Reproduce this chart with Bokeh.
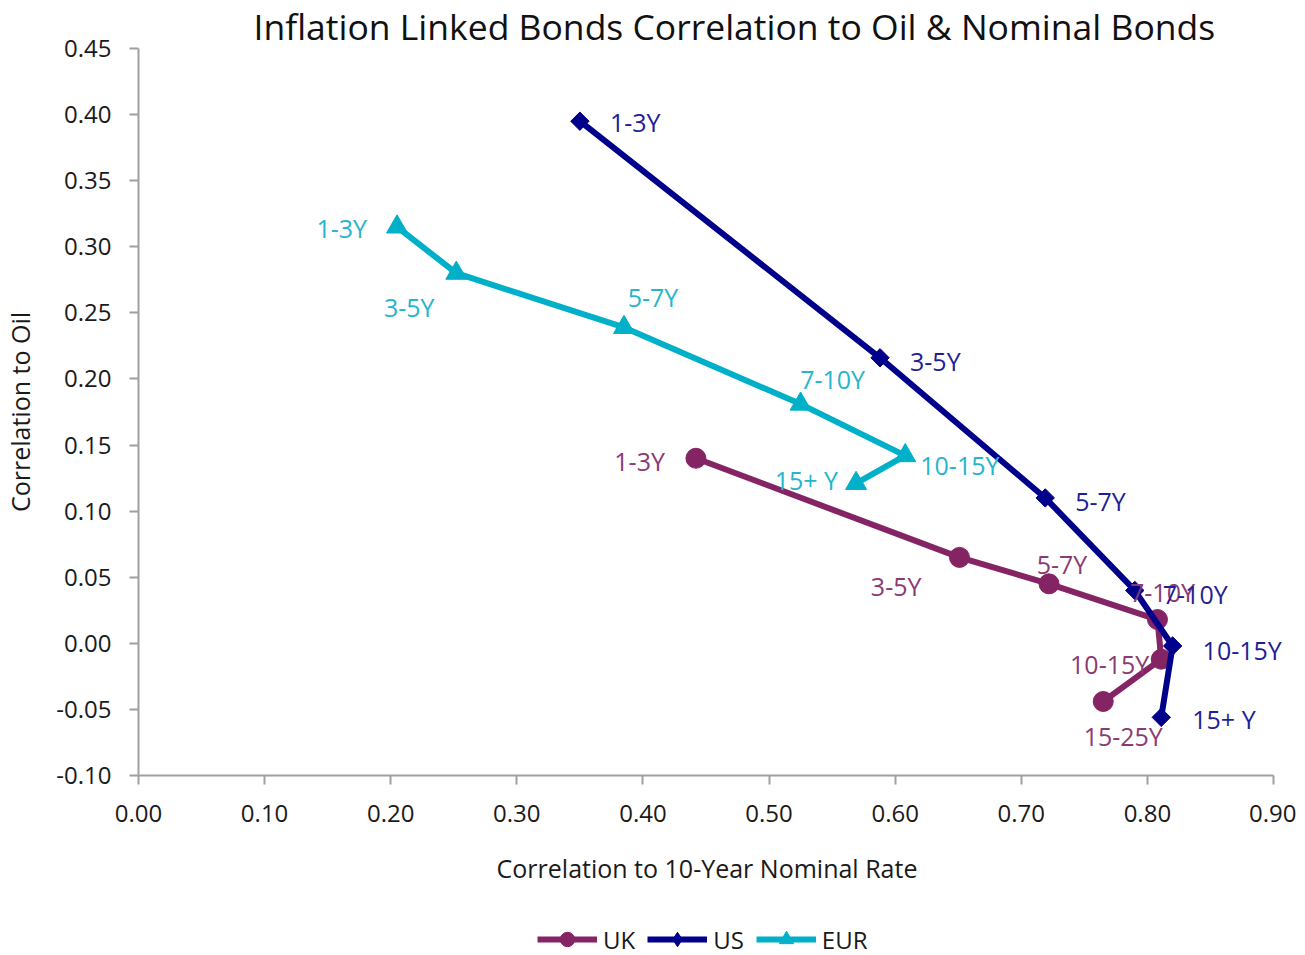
import numpy as np
from bokeh.plotting import figure
from bokeh.layouts import column
from bokeh.models import (ColumnDataSource, Legend, LegendItem, FixedTicker,
                          NumeralTickFormatter, Range1d, Title, LabelSet)
from bokeh.core.properties import value
from bokeh.embed import file_html
from bokeh.resources import INLINE

# ---- data ----
uk_labels = ["1-3Y", "3-5Y", "5-7Y", "7-10Y", "10-15Y", "15-25Y"]
uk_x = [0.442, 0.651, 0.722, 0.808, 0.811, 0.765]
uk_y = [0.140, 0.065, 0.045, 0.018, -0.012, -0.044]

us_labels = ["1-3Y", "3-5Y", "5-7Y", "7-10Y", "10-15Y", "15+ Y"]
us_x = [0.350, 0.588, 0.719, 0.790, 0.820, 0.811]
us_y = [0.395, 0.216, 0.110, 0.040, -0.002, -0.056]

eur_labels = ["1-3Y", "3-5Y", "5-7Y", "7-10Y", "10-15Y", "15+ Y"]
eur_x = [0.205, 0.252, 0.385, 0.525, 0.608, 0.569]
eur_y = [0.315, 0.280, 0.239, 0.181, 0.142, 0.121]

x_ticks = [0.0, 0.1, 0.2, 0.3, 0.4, 0.5, 0.6, 0.7, 0.8, 0.9]
y_ticks = [-0.10, -0.05, 0.0, 0.05, 0.10, 0.15, 0.20, 0.25, 0.30, 0.35, 0.40, 0.45]

# ---- label styling (pixel offsets, alignment) ----
uk_dx = [-31, -38, 13, 5, -12, 20]
uk_dy = [-3, -29, 20, 28, -5, -35]
uk_align = ["right", "right", "center", "center", "right", "center"]

us_dx = [30, 30, 30, 28, 30, 31]
us_dy = [-1, -3, -3, -4, -4, -2]
us_align = ["left"] * 6

eur_dx = [-30, -47, 29, 32, 15, -18]
eur_dy = [-1, -34, 30, 25, -9, 3]
eur_align = ["right", "center", "center", "center", "left", "right"]

UK_C = "#842464"
US_C = "#00008B"
EUR_C = "#00B0C8"
UK_T = "#8B3A75"
US_T = "#1E1E96"
EUR_T = "#26B5CC"
FONT = "Open Sans"

AXIS_W = 1135          # pixel width of 0.00..0.90
FRAME_W = 1150         # a little extra room on the right for labels
X_END = 0.9 * FRAME_W / AXIS_W
LEFT, RIGHT = 135, 8
TOTAL_W = LEFT + FRAME_W + RIGHT

p = figure(frame_width=FRAME_W, frame_height=727, output_backend="svg", toolbar_location=None,
           x_range=Range1d(0.0, X_END), y_range=Range1d(-0.10, 0.45),
           min_border_left=LEFT, min_border_right=RIGHT, min_border_top=40,
           min_border_bottom=118)
p.outline_line_color = None
p.grid.visible = False
p.background_fill_color = "white"
p.border_fill_color = "white"

p.title = Title(text="Inflation Linked Bonds Correlation to Oil & Nominal Bonds",
                text_font=FONT, text_font_size="35.5px", text_font_style="normal",
                text_color="#111111", align="left", offset=115, standoff=-2,
                text_line_height=1.0)

for ax in (p.xaxis[0], p.yaxis[0]):
    ax.axis_line_color = "#A0A0A0"
    ax.axis_line_width = 2
    ax.major_tick_line_color = "#A0A0A0"
    ax.major_tick_line_width = 2
    ax.major_tick_out = 9
    ax.major_tick_in = 0
    ax.minor_tick_line_color = None
    ax.major_label_text_font = FONT
    ax.major_label_text_font_size = "24px"
    ax.major_label_text_color = "#1a1a1a"
    ax.axis_label_text_font = FONT
    ax.axis_label_text_font_size = "25px"
    ax.axis_label_text_font_style = "normal"
    ax.axis_label_text_color = "#1a1a1a"
    ax.formatter = NumeralTickFormatter(format="0.00")

p.xaxis.ticker = FixedTicker(ticks=x_ticks)
p.yaxis.ticker = FixedTicker(ticks=y_ticks)
p.xaxis[0].bounds = (x_ticks[0], x_ticks[-1])
p.xaxis.axis_label = "Correlation  to  10-Year Nominal Rate"
p.yaxis.axis_label = "Correlation to Oil"
p.xaxis.major_label_standoff = 20
p.yaxis.major_label_standoff = 18
p.xaxis.axis_label_standoff = 26
p.yaxis.axis_label_standoff = 16

def series(xs, ys, labels, dx, dy, align, col, tcol, marker, size, angle=0.0):
    src = ColumnDataSource(dict(x=xs, y=ys, lab=labels, dx=dx, dy=dy, al=align))
    p.line("x", "y", source=src, line_color=col, line_width=6)
    p.scatter("x", "y", source=src, marker=marker, size=size, angle=angle,
              fill_color=col, line_color=col)
    lbl = LabelSet(x="x", y="y", text="lab", source=src, x_offset="dx", y_offset="dy",
                   text_align="al", text_baseline="middle", text_color=tcol,
                   text_font=value(FONT), text_font_size="25px")
    p.add_layout(lbl)

series(uk_x, uk_y, uk_labels, uk_dx, uk_dy, uk_align, UK_C, UK_T, "circle", 20)
series(us_x, us_y, us_labels, us_dx, us_dy, us_align, US_C, US_T, "square", 13, np.pi / 4)
series(eur_x, eur_y, eur_labels, eur_dx, eur_dy, eur_align, EUR_C, EUR_T, "triangle", 21)

# ---- legend strip below the chart (its data lies outside this strip's ranges) ----
lf = figure(width=TOTAL_W, height=64, output_backend="svg", toolbar_location=None,
            x_range=Range1d(10, 11), y_range=Range1d(10, 11),
            x_axis_location=None, y_axis_location=None, min_border=0)
lf.outline_line_color = None
lf.grid.visible = False
items = []
for name, xs, ys, col, marker in (("UK", uk_x, uk_y, UK_C, "circle"),
                                  ("US", us_x, us_y, US_C, "diamond"),
                                  ("EUR", eur_x, eur_y, EUR_C, "triangle")):
    ln = lf.line(x=xs, y=ys, line_color=col, line_width=6)
    mk = lf.scatter(x=xs, y=ys, marker=marker, fill_color=col, line_color=col)
    items.append(LegendItem(label=name, renderers=[ln, mk]))
legend = Legend(items=items, orientation="horizontal", location=(399, 0),
                glyph_width=60, glyph_height=36, label_standoff=6, spacing=12,
                label_text_font=FONT, label_text_font_size="24px",
                label_text_color="#1a1a1a", border_line_color=None,
                background_fill_alpha=0, padding=0, margin=0)
lf.add_layout(legend, "center")

open("out.html", "w").write(file_html(column(p, lf, spacing=0), INLINE))
